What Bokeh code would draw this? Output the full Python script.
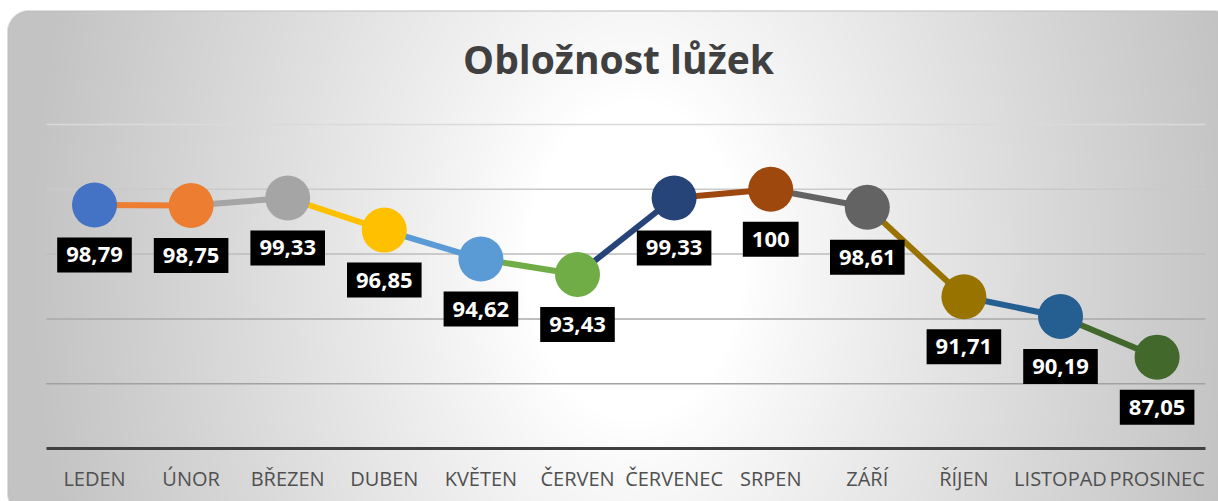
import numpy as np
from bokeh.plotting import figure
from bokeh.models import Range1d, FixedTicker, Label
from bokeh.core.properties import value
from bokeh.embed import file_html
from bokeh.resources import INLINE

# ---------------- data ----------------
title_text = "Obložnost lůžek"
months = ["LEDEN", "ÚNOR", "BŘEZEN", "DUBEN", "KVĚTEN", "ČERVEN",
          "ČERVENEC", "SRPEN", "ZÁŘÍ", "ŘÍJEN", "LISTOPAD", "PROSINEC"]
occupancy = [98.79, 98.75, 99.33, 96.85, 94.62, 93.43,
             99.33, 100, 98.61, 91.71, 90.19, 87.05]
y_ticks = [80, 85, 90, 95, 100, 105]

# ---------------- styles ----------------
point_colors = ["#4472C4", "#ED7D31", "#A5A5A5", "#FFC000", "#5B9BD5", "#70AD47",
                "#264478", "#9E480E", "#636363", "#997300", "#255E91", "#43682B"]
grid_colors = ["#A2A2A2", "#A8A8A8", "#BDBDBD", "#CACACA", "#DADADA"]  # 85..105

W, H = 1218, 501
X0_PX, X_STEP = 94.0, 96.6          # pixel of first category, pixels per category
Y_TOP_PX, Y_BOT_PX = 124.0, 448.0   # pixel rows of top gridline and of axis
Y_PX = (Y_BOT_PX - Y_TOP_PX) / (y_ticks[-1] - y_ticks[0])

x_start = -X0_PX / X_STEP
x_end = (W - X0_PX) / X_STEP
y_start = y_ticks[0] - (H - Y_BOT_PX) / Y_PX
y_end = y_ticks[-1] + Y_TOP_PX / Y_PX


def px_x(px):
    return x_start + px / X_STEP


def px_y(py):
    return y_end - py / Y_PX


p = figure(width=W, height=H, output_backend="svg", toolbar_location=None,
           x_range=Range1d(x_start, x_end), y_range=Range1d(y_start, y_end),
           min_border=0, min_border_left=0, min_border_right=0,
           min_border_top=0, min_border_bottom=0)
p.title.visible = False
p.outline_line_color = None
p.background_fill_color = "white"
p.border_fill_color = "white"
p.xgrid.visible = False
p.ygrid.visible = False
p.yaxis.visible = False

# ---------------- background: radial gradient in a rounded rectangle ----------------
yy, xx = np.mgrid[0:H, 0:W].astype(float)
yy += 0.5
xx += 0.5
cx, cy = 635.0, 260.0
d = np.sqrt(((xx - cx) / 610.0) ** 2 + ((yy - cy) / 900.0) ** 2)
t = np.clip((d - 0.18) / 0.82, 0, 1) ** 0.9
g = 255.0 - 60.0 * t
rx0, ry0, rx1, ry1, rr = 7.0, 10.0, 1234.0, 514.0, 22.0
ccx, ccy = (rx0 + rx1) / 2, (ry0 + ry1) / 2
hw, hh = (rx1 - rx0) / 2, (ry1 - ry0) / 2
qx = np.abs(xx - ccx) - (hw - rr)
qy = np.abs(yy - ccy) - (hh - rr)
sd = np.hypot(np.maximum(qx, 0), np.maximum(qy, 0)) + np.minimum(np.maximum(qx, qy), 0) - rr
a = np.clip(0.5 - sd, 0, 1)
col = 255.0 * (1 - a) + g * a
b = np.clip(1.0 - np.abs(sd + 0.5), 0, 1)
col = col * (1 - b) + 190.0 * b
col = np.clip(col, 0, 255).astype(np.uint8)
img = np.empty((H, W), dtype=np.uint32)
view = img.view(dtype=np.uint8).reshape((H, W, 4))
view[..., 0] = col
view[..., 1] = col
view[..., 2] = col
view[..., 3] = 255
p.image_rgba(image=[img[::-1]], x=x_start, y=y_start, dw=x_end - x_start, dh=y_end - y_start)

# ---------------- gridlines ----------------
n = len(months)
p.segment(x0=[-0.5] * (len(y_ticks) - 1), y0=y_ticks[1:],
          x1=[n - 0.5] * (len(y_ticks) - 1), y1=y_ticks[1:],
          line_color=grid_colors, line_width=1.5)

# ---------------- line + markers ----------------
xs = list(range(n))
p.segment(x0=xs[:-1], y0=occupancy[:-1], x1=xs[1:], y1=occupancy[1:],
          line_color=point_colors[1:], line_width=6)
p.scatter(x=xs, y=occupancy, size=45, fill_color=point_colors, line_color=None)

# ---------------- x axis ----------------
ax = p.xaxis[0]
ax.fixed_location = y_ticks[0]
ax.bounds = (-0.5, n - 0.5)
ax.ticker = FixedTicker(ticks=xs)
ax.major_label_overrides = {i: m for i, m in enumerate(months)}
ax.axis_line_color = "#404040"
ax.axis_line_width = 3
ax.major_tick_line_color = None
ax.minor_tick_line_color = None
ax.major_label_standoff = 10
ax.major_label_text_font = "Open Sans"
ax.major_label_text_font_size = "20px"
ax.major_label_text_color = "#505050"

# ---------------- data labels ----------------
for xi, yi in zip(xs, occupancy):
    txt = ("%g" % yi).replace(".", ",")
    p.add_layout(Label(x=xi, y=yi, y_offset=-50, text=txt,
                       text_align="center", text_baseline="middle",
                       text_color="white", text_font="Open Sans",
                       text_font_style="bold", text_font_size="22px",
                       background_fill_color="black",
                       padding=dict(left=9, right=9, top=10, bottom=10)))

# ---------------- title ----------------
p.add_layout(Label(x=px_x(618), y=px_y(58), text=title_text,
                   text_align="center", text_baseline="middle",
                   text_color="#404040", text_font="Open Sans",
                   text_font_style="bold", text_font_size="39px"))

open("out.html", "w").write(file_html(p, INLINE))
